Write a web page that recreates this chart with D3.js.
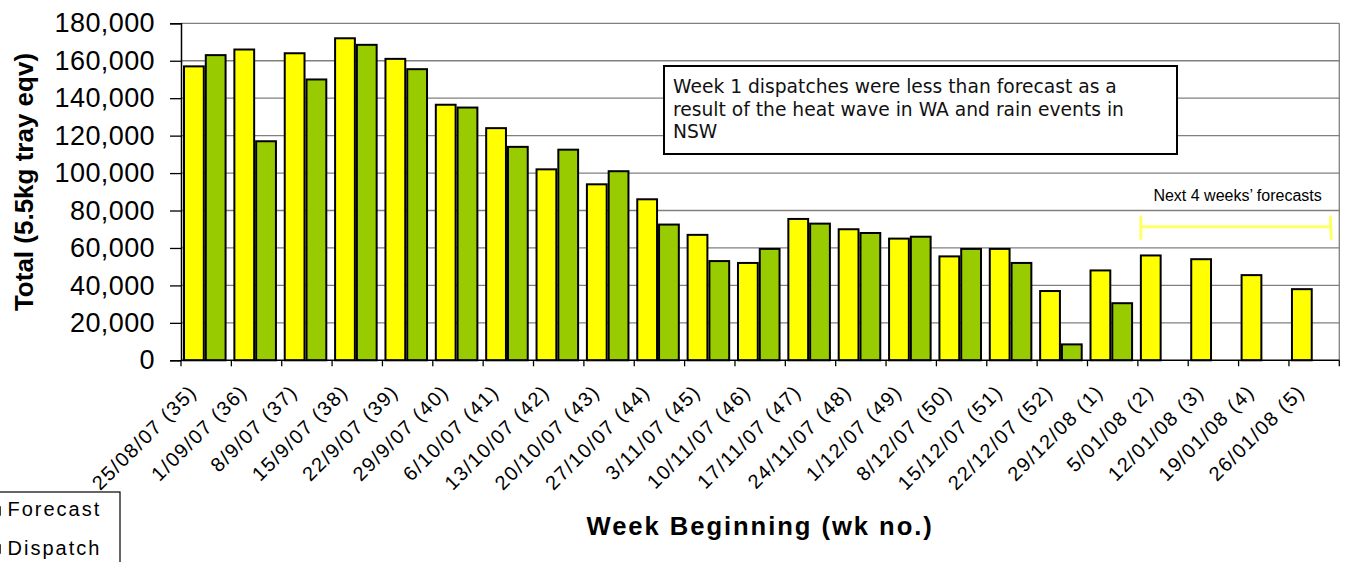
<!DOCTYPE html>
<html>
<head>
<meta charset="utf-8">
<script src="https://cdn.jsdelivr.net/npm/d3@7"></script>
<style>
  html, body { margin: 0; padding: 0; background: #fff; }
  svg { display: block; }
</style>
</head>
<body>
<svg id="chart" width="1346" height="562"></svg>
<script>
const categories = ["25/08/07 (35)", "1/09/07 (36)", "8/9/07 (37)", "15/9/07 (38)", "22/9/07 (39)",
  "29/9/07 (40)", "6/10/07 (41)", "13/10/07 (42)", "20/10/07 (43)", "27/10/07 (44)", "3/11/07 (45)",
  "10/11/07 (46)", "17/11/07 (47)", "24/11/07 (48)", "1/12/07 (49)", "8/12/07 (50)", "15/12/07 (51)",
  "22/12/07 (52)", "29/12/08 (1)", "5/01/08 (2)", "12/01/08 (3)", "19/01/08 (4)", "26/01/08 (5)"];
const forecast = [157000, 166000, 164000, 172000, 161000, 136500, 124000, 102000, 94000, 86000, 67000,
  52000, 75500, 70000, 65000, 55500, 59500, 37000, 48000, 56000, 54000, 45500, 38000];
const dispatch = [163000, 117000, 150000, 168500, 155500, 135000, 114000, 112500, 101000, 72500, 53000,
  59500, 73000, 68000, 66000, 59500, 52000, 8500, 30500, null, null, null, null];
const seriesNames = ["Forecast", "Dispatch"];
const seriesColors = ["#FFFF00", "#99CC00"];
const yTicks = [0, 20000, 40000, 60000, 80000, 100000, 120000, 140000, 160000, 180000];
const yTitle = "Total (5.5kg tray eqv)";
const xTitle = "Week Beginning (wk no.)";
const noteLines = ["Week 1 dispatches were less than forecast as a",
  "result of the heat wave in WA and rain events in", "NSW"];
const forecastNote = "Next 4 weeks\u2019 forecasts";
const forecastOnlyStart = "5/01/08 (2)";

const svg = d3.select("#chart");
const plot = { left: 181, right: 1339.3, top: 23.3, bottom: 360.3 };

const x = d3.scaleBand().domain(categories).range([plot.left, plot.right]).padding(0);
const bw = x.bandwidth();
const x1 = d3.scaleBand().domain(seriesNames).range([bw * 0.04, bw * 0.905]).padding(0);
const y = d3.scaleLinear().domain([0, 180000]).range([plot.bottom, plot.top]);

// gridlines
svg.append("g").selectAll("line").data(yTicks.filter(d => d > 0)).join("line")
  .attr("x1", plot.left).attr("x2", plot.right)
  .attr("y1", d => y(d)).attr("y2", d => y(d))
  .attr("stroke", "#808080").attr("stroke-width", 1.3);
// right border
svg.append("line").attr("x1", plot.right).attr("x2", plot.right)
  .attr("y1", plot.top).attr("y2", plot.bottom)
  .attr("stroke", "#808080").attr("stroke-width", 1.3);

// bars
const rows = categories.map((c, i) => ({ c, vals: [forecast[i], dispatch[i]] }));
const g = svg.append("g");
rows.forEach(r => {
  r.vals.forEach((v, k) => {
    if (v == null) return;
    g.append("rect")
      .attr("x", x(r.c) + x1(seriesNames[k]) + 1)
      .attr("y", y(v))
      .attr("width", x1.bandwidth() - 2)
      .attr("height", y(0) - y(v))
      .attr("fill", seriesColors[k])
      .attr("stroke", "#000").attr("stroke-width", 2);
  });
});

// y axis
const yAxis = svg.append("g").attr("transform", `translate(${plot.left},0)`)
  .call(d3.axisLeft(y).tickValues(yTicks).tickSize(11).tickPadding(15).tickFormat(d3.format(",")));
yAxis.select(".domain").attr("stroke", "#000").attr("stroke-width", 1.5);
yAxis.selectAll(".tick line").attr("stroke", "#000").attr("stroke-width", 1.3);
yAxis.selectAll(".tick text").attr("font-family", "Liberation Sans, Arial, sans-serif")
  .attr("font-size", 27).attr("fill", "#000").attr("letter-spacing", 0.4);

// x axis line & boundary ticks
svg.append("line").attr("x1", plot.left).attr("x2", plot.right)
  .attr("y1", plot.bottom).attr("y2", plot.bottom).attr("stroke", "#000").attr("stroke-width", 1.5);
const bounds = categories.map(c => x(c)).concat([plot.right]);
svg.append("g").selectAll("line").data(bounds).join("line")
  .attr("x1", d => d).attr("x2", d => d)
  .attr("y1", plot.bottom).attr("y2", plot.bottom + 6)
  .attr("stroke", "#000").attr("stroke-width", 1.3);

// x tick labels
svg.append("g").selectAll("text").data(categories).join("text")
  .attr("transform", d => `translate(${x(d) + bw / 2 - 13},${plot.bottom + 28}) rotate(-45)`)
  .attr("text-anchor", "end")
  .attr("dominant-baseline", "central")
  .attr("font-family", "Liberation Sans, Arial, sans-serif")
  .attr("font-size", 20).attr("letter-spacing", 1.5).attr("fill", "#000")
  .text(d => d);

// axis titles
svg.append("text")
  .attr("transform", `translate(33,182) rotate(-90)`)
  .attr("text-anchor", "middle")
  .attr("font-family", "Liberation Sans, Arial, sans-serif")
  .attr("font-weight", "bold").attr("font-size", 26).attr("fill", "#000")
  .text(yTitle);
svg.append("text")
  .attr("x", (plot.left + plot.right) / 2).attr("y", 535)
  .attr("text-anchor", "middle")
  .attr("font-family", "Liberation Sans, Arial, sans-serif")
  .attr("font-weight", "bold").attr("font-size", 25.6).attr("letter-spacing", 1.95).attr("fill", "#000")
  .text(xTitle);

// annotation box
svg.append("rect").attr("x", 664).attr("y", 66).attr("width", 513).attr("height", 88)
  .attr("fill", "#fff").attr("stroke", "#000").attr("stroke-width", 2);
svg.append("g").selectAll("text").data(noteLines).join("text")
  .attr("x", 673).attr("y", (d, i) => 93 + i * 22.6)
  .attr("font-family", "DejaVu Sans, Verdana, sans-serif")
  .attr("font-size", 18.7).attr("fill", "#111")
  .text(d => d);

// next 4 weeks bracket
const bx0 = x(forecastOnlyStart) + 3, bx1 = plot.right - 9, by = 226.7;
svg.append("text").attr("x", (bx0 + bx1) / 2 + 2).attr("y", 201)
  .attr("text-anchor", "middle")
  .attr("font-family", "Liberation Sans, Arial, sans-serif")
  .attr("font-size", 16).attr("fill", "#000").text(forecastNote);
const bracket = svg.append("g").attr("stroke", "#FFFF66").attr("stroke-width", 3);
bracket.append("line").attr("x1", bx0).attr("x2", bx1).attr("y1", by).attr("y2", by);
bracket.append("line").attr("x1", bx0).attr("x2", bx0).attr("y1", by - 11).attr("y2", by + 13);
bracket.append("line").attr("x1", bx1).attr("x2", bx1 + 1).attr("y1", by - 11).attr("y2", by + 13);

// legend (partly off-canvas)
const lg = svg.append("g");
lg.append("rect").attr("x", -10).attr("y", 492).attr("width", 130).attr("height", 90)
  .attr("fill", "#fff").attr("stroke", "#000").attr("stroke-width", 1.2);
seriesNames.forEach((s, i) => {
  lg.append("rect").attr("x", -10).attr("y", 507 + i * 38).attr("width", 10).attr("height", 8)
    .attr("fill", seriesColors[i]).attr("stroke", "#000").attr("stroke-width", 1.5);
  lg.append("text").attr("x", 7.5).attr("y", 516 + i * 39)
    .attr("font-family", "Liberation Sans, Arial, sans-serif")
    .attr("font-size", 20).attr("letter-spacing", 2).attr("fill", "#000").text(s);
});
</script>
</body>
</html>
